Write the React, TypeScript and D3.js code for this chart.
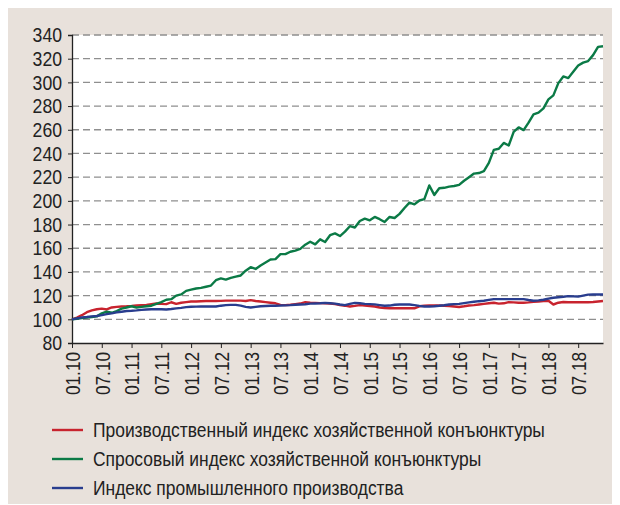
import { useEffect, useRef } from 'react';
import * as d3 from 'd3';

// monthly, 01.2010 .. 12.2018
const months = d3.timeMonth
  .range(new Date(2010, 0, 1), new Date(2019, 0, 1))
  .map(d3.timeFormat('%m.%y'));

const tickLabels = [
  '01.10', '07.10', '01.11', '07.11', '01.12', '07.12', '01.13', '07.13', '01.14',
  '07.14', '01.15', '07.15', '01.16', '07.16', '01.17', '07.17', '01.18', '07.18',
];

const yTicks = [80, 100, 120, 140, 160, 180, 200, 220, 240, 260, 280, 300, 320, 340];

const production = [
  100, 101.5, 103.5, 106, 107.5, 108.5, 109, 108.3, 110, 110.5, 110.8, 111,
  111.3, 111.7, 112, 112.2, 112.8, 113.3, 113, 112.8, 114.4, 113, 114, 114.5,
  115, 115, 115.3, 115.4, 115.5, 115.5, 115.6, 115.8, 115.8, 115.8, 115.8, 115.5,
  116.2, 115.5, 115, 114.5, 114, 113.5, 112.2, 112, 112.3, 112.8, 113.3, 114.5,
  114, 113.9, 113.7, 113.5, 113.3, 112.8, 112, 111.5, 110.8, 111.3, 112, 111.7,
  111.2, 110.8, 110, 109.6, 109.3, 109.3, 109.3, 109.3, 109.3, 109.3, 111, 111.5,
  111.7, 111.7, 111.6, 111.4, 111.2, 110.8, 110.4, 111, 111.7, 112, 112.5, 113,
  113.5, 114, 113.2, 113.5, 114.5, 114.3, 114, 114, 114.3, 114.7, 115, 115.4,
  115.7, 112.5, 114, 114.6, 114.4, 114.4, 114.4, 114.4, 114.4, 114.6, 115, 115.4,
];

const demand = [
  100, 100.5, 101, 101.5, 102, 102.5, 105, 106.5, 105.5, 107, 109, 110,
  111, 110, 110.5, 111, 111.5, 113, 114.5, 116.5, 117, 120, 121, 124,
  125, 126, 126.5, 127.5, 128.5, 133, 134.5, 133.5, 135, 136, 137, 141,
  144, 142.5, 145.5, 148, 150.5, 150.8, 155, 155, 157, 158, 159.5, 163,
  165.5, 163.3, 167.5, 165.3, 171, 172.5, 170.3, 174, 178.6, 177.5, 183, 185,
  183.6, 186.4, 184.5, 182.2, 186.4, 185.5, 189, 194, 198.5, 197, 200.3, 201.4,
  213, 205, 210.6, 211, 212, 212.5, 213.5, 217, 220, 223, 223.5, 225,
  232, 243, 244, 248.9, 246.7, 258.3, 262, 259.7, 266, 273, 274.4, 278,
  285.6, 289, 299.4, 305, 303.6, 309, 314.2, 316.7, 318, 323, 330, 330.5,
];

const industry = [
  100, 100.8, 101.6, 102, 102.5, 102.8, 103.5, 104.4, 105, 105.8, 106.4, 107,
  107.2, 107.5, 108, 108.3, 108.5, 108.6, 108.5, 108.3, 108.7, 109.2, 109.7, 110.3,
  110.6, 110.7, 110.8, 110.8, 110.8, 110.8, 111.5, 112, 112.2, 112.2, 111.5, 110.5,
  110, 110.5, 111, 111.2, 111.4, 111.5, 111.6, 111.8, 112, 112.3, 112.5, 112.7,
  113.2, 113.4, 113.6, 113.9, 113.6, 113.2, 112.5, 112, 113, 113.9, 113.5, 113,
  112.8, 112.6, 112, 111.4, 111.6, 112.3, 112.5, 112.5, 112.5, 112, 111.3, 110.8,
  110.8, 111, 111.4, 111.9, 112.5, 112.8, 113, 113.7, 114.3, 114.8, 115.3, 115.7,
  116.4, 117, 117, 117, 117, 117, 117, 117, 116.3, 115.7, 116, 116.5,
  117.5, 118.2, 118.6, 119, 119.6, 119.4, 119.2, 120, 120.8, 121, 121, 121,
];

const seriesNames = [
  'Производственный индекс хозяйственной конъюнктуры',
  'Спросовый индекс хозяйственной конъюнктуры',
  'Индекс промышленного производства',
];
const seriesColors = ['#c8232e', '#0b7a46', '#293d8e'];

const FONT = '"Liberation Sans", Arial, sans-serif';
// the original uses a condensed face; squeeze the regular one to match
const NARROW = 0.83;

const Chart = () => {
  const ref = useRef<SVGSVGElement>(null);

  useEffect(() => {
    const svg = d3.select(ref.current);
    svg.selectAll('*').remove();

    const left = 72;
    const right = 603;
    const top = 35;
    const bottom = 343;

    const x = d3.scalePoint<string>().domain(months).range([left, right]);
    const y = d3.scaleLinear().domain([80, 340]).range([bottom, top]);

    svg
      .append('rect')
      .attr('x', 8)
      .attr('y', 8)
      .attr('width', 604)
      .attr('height', 496)
      .attr('fill', '#e8e1db');

    svg
      .append('rect')
      .attr('x', left)
      .attr('y', top)
      .attr('width', right - left)
      .attr('height', bottom - top)
      .attr('fill', '#ffffff');

    // grid
    svg
      .append('g')
      .selectAll('line')
      .data(yTicks.filter((t) => t > 80))
      .join('line')
      .attr('x1', left)
      .attr('x2', right)
      .attr('y1', (d) => y(d))
      .attr('y2', (d) => y(d))
      .attr('stroke', '#8f8f8f')
      .attr('stroke-width', 1.3)
      .attr('stroke-dasharray', '7,4');

    // y axis
    const yAxis = svg
      .append('g')
      .attr('transform', `translate(${left},0)`)
      .call(d3.axisLeft(y).tickValues(yTicks).tickSize(4).tickPadding(6).tickFormat(d3.format('d')));
    yAxis.select('.domain').attr('stroke', '#222').attr('stroke-width', 1.3);
    yAxis.selectAll('.tick line').attr('stroke', '#222');
    yAxis
      .selectAll<SVGTextElement, number>('.tick text')
      .attr('fill', '#222')
      .attr('textLength', (d) => String(d).length * 9.8)
      .attr('lengthAdjust', 'spacingAndGlyphs')
      .style('font-family', FONT)
      .style('font-size', '21px');

    // x axis
    const xAxis = svg
      .append('g')
      .attr('transform', `translate(0,${bottom})`)
      .call(d3.axisBottom(x).tickValues(tickLabels).tickSize(5).tickSizeOuter(0));
    xAxis.select('.domain').attr('stroke', '#222').attr('stroke-width', 1.3);
    xAxis.selectAll('.tick line').attr('stroke', '#222');
    xAxis
      .selectAll('.tick text')
      .attr('fill', '#222')
      .attr('transform', 'rotate(-90)')
      .attr('x', -9)
      .attr('y', 0)
      .attr('dy', '0.35em')
      .attr('text-anchor', 'end')
      .attr('textLength', 43)
      .attr('lengthAdjust', 'spacingAndGlyphs')
      .style('font-family', FONT)
      .style('font-size', '21px');

    // lines
    const line = d3
      .line<number>()
      .x((_, i) => x(months[i]) as number)
      .y((d) => y(d));

    [production, demand, industry].forEach((vals, k) => {
      svg
        .append('path')
        .datum(vals)
        .attr('d', line)
        .attr('fill', 'none')
        .attr('stroke', seriesColors[k])
        .attr('stroke-width', 2.4)
        .attr('stroke-linejoin', 'round');
    });

    // legend
    const legend = svg
      .append('g')
      .selectAll('g')
      .data(seriesNames)
      .join('g')
      .attr('transform', (_, i) => `translate(52,${430 + i * 29})`);
    legend
      .append('line')
      .attr('x1', 0)
      .attr('x2', 31)
      .attr('stroke', (_, i) => seriesColors[i])
      .attr('stroke-width', 2.4);
    legend
      .append('text')
      .attr('x', 41)
      .attr('dy', '0.35em')
      .attr('fill', '#222')
      .attr('transform', `scale(${NARROW},1)`)
      .attr('transform-origin', '41 0')
      .style('font-family', FONT)
      .style('font-size', '21px')
      .text((d) => d);
  }, []);

  return (
    <svg
      ref={ref}
      width={620}
      height={505}
      style={{ position: 'absolute', left: 0, top: 0 }}
    />
  );
};

export default function App() {
  return (
    <div>
      <Chart />
    </div>
  );
}
